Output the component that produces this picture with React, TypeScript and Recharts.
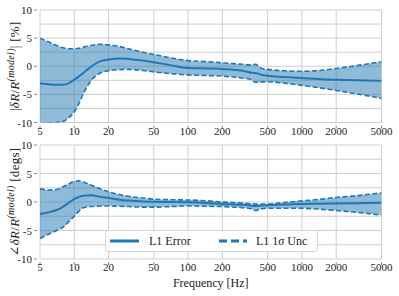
import { ComposedChart, Area, Line, XAxis, YAxis, CartesianGrid } from 'recharts'

// frequencies [Hz]
const freqs = [5, 6, 7, 8, 9, 10, 11, 12, 14, 17, 20, 25, 30, 40, 50, 70, 100, 150, 200, 300, 350, 390, 440, 500, 700, 1000, 1500, 2000, 3000, 5000]

// magnitude |dR/R| [%]
const magErr = [-3.0, -3.2, -3.3, -3.3, -3.0, -2.4, -1.8, -1.2, -0.1, 0.9, 1.2, 1.4, 1.3, 1.0, 0.7, 0.2, -0.3, -0.4, -0.5, -0.8, -1.1, -1.2, -1.5, -1.7, -1.9, -2.1, -2.3, -2.4, -2.5, -2.6]
const magHi = [5.0, 4.3, 3.7, 3.3, 3.1, 3.1, 3.2, 3.4, 3.7, 3.9, 3.8, 3.5, 3.1, 2.5, 2.1, 1.5, 1.0, 0.8, 0.6, 0.35, 0.25, 0.35, -0.35, -0.55, -0.8, -0.9, -0.7, -0.4, 0.1, 0.8]
const magLo = [-10.3, -10.1, -10.0, -9.8, -9.1, -8.1, -6.6, -4.9, -2.6, -1.2, -0.8, -0.6, -0.55, -0.75, -1.0, -1.3, -1.55, -1.65, -1.75, -2.1, -2.3, -2.85, -2.8, -2.75, -3.0, -3.4, -3.9, -4.3, -4.9, -5.7]

// phase [degs]
const phErr = [-2.1, -1.8, -1.4, -0.8, -0.1, 0.5, 0.9, 1.1, 1.2, 0.9, 0.7, 0.4, 0.25, 0.1, 0.05, 0.0, -0.05, -0.2, -0.35, -0.5, -0.6, -0.7, -0.6, -0.55, -0.45, -0.35, -0.3, -0.25, -0.2, -0.15]
const phHi = [2.3, 2.1, 2.2, 2.7, 3.2, 3.6, 3.7, 3.5, 3.0, 2.3, 1.8, 1.3, 1.0, 0.7, 0.5, 0.4, 0.35, 0.2, 0.0, -0.2, -0.3, -0.35, -0.35, -0.35, -0.1, 0.2, 0.5, 0.8, 1.1, 1.6]
const phLo = [-6.4, -5.6, -5.0, -4.4, -3.4, -2.5, -1.6, -1.0, -0.8, -0.7, -0.7, -0.75, -0.8, -0.9, -0.9, -0.8, -0.7, -0.75, -0.8, -1.0, -1.15, -1.5, -1.2, -1.1, -1.1, -1.1, -1.3, -1.5, -1.8, -2.3]

const xTicks = [5, 10, 20, 50, 100, 200, 500, 1000, 2000, 5000]
const yTicks = [-10, -7.5, -5, -2.5, 0, 2.5, 5, 7.5, 10]

const C = '#1f77b4'
const FONT = '"Liberation Serif", "DejaVu Serif", serif'
const GRID = '#cfcfcf'

const magData = freqs.map((f, i) => ({ f, err: magErr[i], hi: magHi[i], lo: magLo[i] }))
const phData = freqs.map((f, i) => ({ f, err: phErr[i], hi: phHi[i], lo: phLo[i] }))

// eslint-disable-next-line @typescript-eslint/no-explicit-any
function YTick({ x, y, payload }: any) {
  if (payload.value % 5 !== 0) return null
  return (
    <g>
      <line x1={x + 2} x2={x + 5} y1={y} y2={y} stroke="#888" />
      <text x={x} y={y} dy={4} textAnchor="end" fontSize={11} fontFamily={FONT} fill="#222">
        {payload.value}
      </text>
    </g>
  )
}

// eslint-disable-next-line @typescript-eslint/no-explicit-any
function XTick({ x, y, payload }: any) {
  return (
    <g>
      <line x1={x} x2={x} y1={y - 5} y2={y - 2} stroke="#888" />
      <text x={x} y={y} dy={4} textAnchor="middle" fontSize={11} fontFamily={FONT} fill="#222">
        {payload.value}
      </text>
    </g>
  )
}

function yLabel(prefix: string, unit: string) {
  // eslint-disable-next-line @typescript-eslint/no-explicit-any
  return ({ viewBox }: any) => {
    const cx = 19
    const cy = viewBox.y + viewBox.height / 2
    return (
      <text transform={`translate(${cx},${cy}) rotate(-90)`} textAnchor="middle" fontSize={13} letterSpacing={0.3} fontFamily={FONT} fill="#222">
        {prefix}
        <tspan fontStyle="italic">δR</tspan>/<tspan fontStyle="italic">R</tspan>
        <tspan dy={-5} fontSize={10} fontStyle="italic">(model)</tspan>
        <tspan dy={5}>{unit}</tspan>
      </text>
    )
  }
}

// eslint-disable-next-line @typescript-eslint/no-explicit-any
function Panel({ data, height, top, xHeight, label, xLabel }: any) {
  return (
    <ComposedChart width={399} height={height} data={data} margin={{ top, right: 17.5, bottom: 0, left: 0 }}>
      <CartesianGrid stroke={GRID} strokeWidth={1} />
      <XAxis
        dataKey="f"
        type="number"
        scale="log"
        domain={[5, 5000]}
        ticks={xTicks}
        allowDataOverflow
        axisLine={false}
        tickLine={false}
        tick={<XTick />}
        height={xHeight}
        interval={0}
        label={xLabel ? {
          content: ({ viewBox }: any) => (
            <text x={viewBox.x + viewBox.width / 2} y={viewBox.y + 28} textAnchor="middle" fontSize={12} fontFamily={FONT} fill="#222">
              Frequency [Hz]
            </text>
          ),
        } : undefined}
      />
      <YAxis
        type="number"
        domain={[-10, 10]}
        ticks={yTicks}
        allowDataOverflow
        width={40}
        axisLine={false}
        tickLine={false}
        tick={<YTick />}
        interval={0}
        label={{ content: label }}
      />
      <Area
        type="monotone"
        dataKey={(d: any) => [d.lo, d.hi]}
        fill={C}
        fillOpacity={0.5}
        stroke="none"
        isAnimationActive={false}
      />
      <Line type="monotone" dataKey="hi" stroke={C} strokeWidth={1.6} strokeDasharray="5 2.5" dot={false} isAnimationActive={false} />
      <Line type="monotone" dataKey="lo" stroke={C} strokeWidth={1.6} strokeDasharray="5 2.5" dot={false} isAnimationActive={false} />
      <Line type="monotone" dataKey="err" stroke={C} strokeWidth={2} dot={false} isAnimationActive={false} />
    </ComposedChart>
  )
}

export default function App() {
  return (
    <div style={{ position: 'absolute', left: 0, top: 0, width: 399, height: 296, background: '#fff', fontFamily: FONT }}>
      <div style={{ position: 'absolute', left: 0, top: 0 }}>
        <Panel data={magData} height={140} top={10} xHeight={17.5} label={yLabel('|', '| [%]')} />
      </div>
      <div style={{ position: 'absolute', left: 0, top: 140 }}>
        <Panel data={phData} height={156} top={5} xHeight={37} label={yLabel('∠', ' [degs]')} xLabel />
      </div>
      {/* legend */}
      <div
        style={{
          position: 'absolute', left: 105, top: 230, width: 211, height: 20,
          border: '1px solid #d8d8d8', borderRadius: 3, background: 'rgba(255,255,255,0.85)',
          fontSize: 12, color: '#222', lineHeight: '20px',
        }}
      >
        <svg width={211} height={20} style={{ position: 'absolute', left: 0, top: 0 }}>
          <line x1={4} x2={33} y1={10} y2={10} stroke={C} strokeWidth={3} />
          <line x1={113} x2={141} y1={10} y2={10} stroke={C} strokeWidth={3} strokeDasharray="8 4" />
        </svg>
        <span style={{ position: 'absolute', left: 43, top: 0 }}>L1 Error</span>
        <span style={{ position: 'absolute', left: 150, top: 0 }}>L1 1<i>σ</i> Unc</span>
      </div>
    </div>
  )
}
